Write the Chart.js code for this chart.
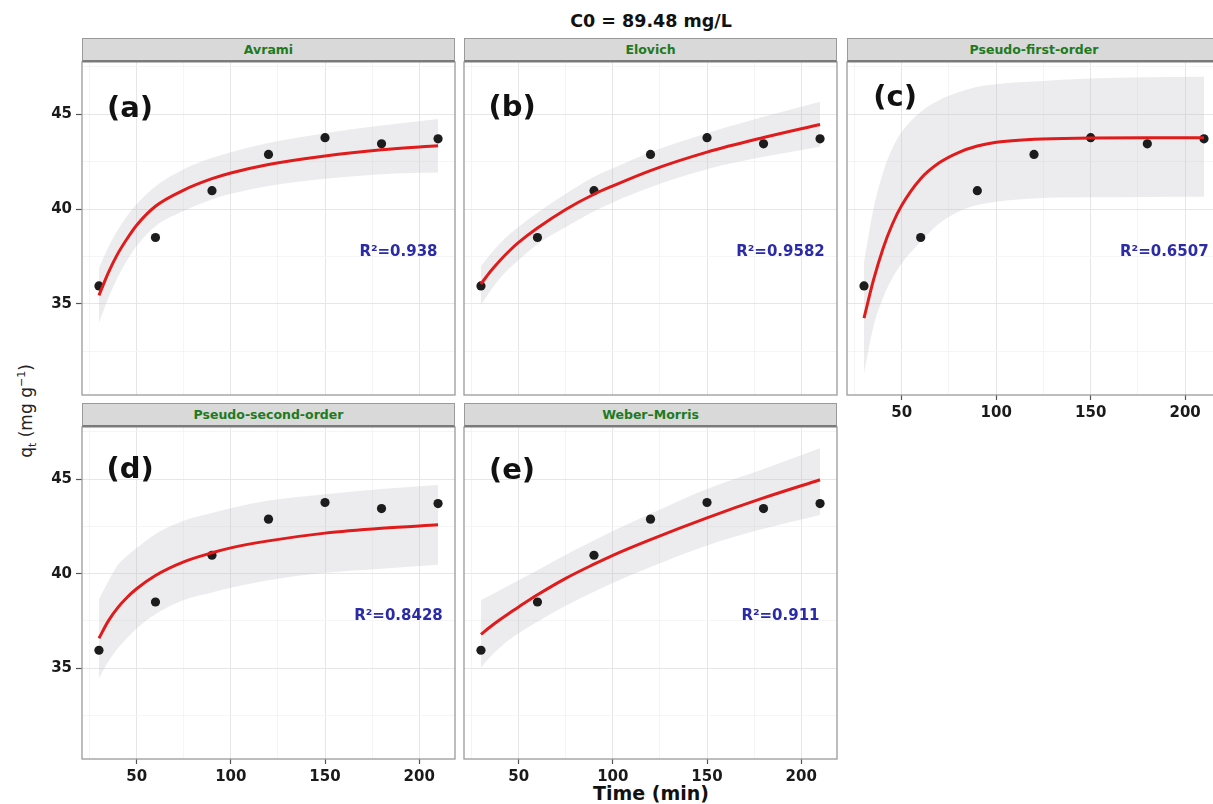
<!DOCTYPE html>
<html>
<head>
<meta charset="utf-8">
<script src="https://cdn.jsdelivr.net/npm/chart.js@4.4.0/dist/chart.umd.min.js"></script>
<style>
  html, body { margin: 0; padding: 0; overflow: hidden; background: #fff; }
  body { width: 1213px; height: 804px; position: relative; font-family: 'DejaVu Sans', sans-serif; }
  .holder { position: absolute; }
  .strip {
    position: absolute; box-sizing: border-box; height: 24px;
    background: #d9d9d9; border: 1px solid #9a9a9a; border-bottom: 2px solid #7a7a7a;
    color: #1f7a1f; font-weight: bold; font-size: 12.5px; line-height: 21px; text-align: center;
  }
  .title { position: absolute; left: 451px; width: 400px; text-align: center; font-weight: bold; color: #111; }
  .ytitle {
    position: absolute; left: 27px; top: 411px; white-space: nowrap;
    transform: translate(-50%, -50%) rotate(-90deg); font-size: 17px; color: #222;
  }
  .ytitle sub, .ytitle sup { font-size: 11px; }
</style>
</head>
<body>
<div class="title" style="top:9px;font-size:17.5px;line-height:24px">C0 = 89.48 mg/L</div>
<div class="title" style="top:781px;font-size:19px;line-height:24px">Time (min)</div>
<div class="ytitle">q<sub>t</sub> (mg g<sup>−1</sup>)</div>

<script>
// 观测数据
const obsTime = [30, 60, 90, 120, 150, 180, 210]
const obsQt = [35.95, 38.5, 40.97, 42.88, 43.76, 43.44, 43.7]

// 拟合曲线的取值时间
const fitTime = [30, 35, 40, 45, 50, 60, 75, 90, 100, 120, 150, 180, 210]
const fitTimePfo = [30, 35, 40, 45, 50, 60, 70, 80, 90, 100, 120, 150, 180, 210]

// Avrami
const avramiFit = [35.45, 36.65, 37.65, 38.45, 39.15, 40.15, 41.0, 41.6, 41.9, 42.35, 42.8, 43.12, 43.33]
const avramiUpper = [36.9, 38.0, 38.9, 39.65, 40.25, 41.2, 42.1, 42.7, 43.0, 43.48, 44.0, 44.4, 44.74]
const avramiLower = [34.0, 35.3, 36.4, 37.3, 38.05, 39.1, 39.9, 40.5, 40.8, 41.22, 41.6, 41.84, 41.92]

// Elovich
const elovichFit = [36.05, 36.71, 37.28, 37.79, 38.24, 39.0, 39.98, 40.78, 41.22, 42.03, 43.0, 43.77, 44.46]
const elovichUpper = [37.0, 37.62, 38.18, 38.66, 39.07, 39.8, 40.8, 41.7, 42.15, 43.0, 44.0, 44.86, 45.65]
const elovichLower = [34.95, 35.7, 36.34, 36.87, 37.32, 38.15, 39.05, 39.88, 40.35, 41.15, 42.1, 42.75, 43.28]

// Pseudo-first-order
const pfoFit = [34.25, 36.25, 37.9, 39.2, 40.2, 41.6, 42.45, 42.98, 43.32, 43.52, 43.68, 43.74, 43.76, 43.76]
const pfoUpper = [37.2, 40.0, 41.9, 43.2, 44.07, 45.12, 45.75, 46.15, 46.44, 46.58, 46.72, 46.88, 46.95, 46.97]
const pfoLower = [31.35, 33.8, 35.3, 36.35, 37.14, 38.28, 39.25, 39.86, 40.21, 40.39, 40.56, 40.62, 40.64, 40.65]

// Pseudo-second-order
const psoFit = [36.58, 37.5, 38.2, 38.75, 39.2, 39.9, 40.62, 41.1, 41.36, 41.73, 42.14, 42.4, 42.58]
const psoUpper = [38.65, 39.6, 40.45, 40.95, 41.35, 42.1, 42.8, 43.2, 43.45, 43.86, 44.2, 44.47, 44.68]
const psoLower = [34.47, 35.35, 36.05, 36.6, 37.1, 37.85, 38.6, 39.0, 39.25, 39.65, 40.04, 40.26, 40.47]

// Weber-Morris
const wmFit = [36.79, 37.19, 37.56, 37.91, 38.24, 38.88, 39.75, 40.5, 40.97, 41.8, 42.95, 44.0, 44.96]
const wmUpper = [38.6, 38.86, 39.12, 39.38, 39.65, 40.18, 41.0, 41.75, 42.25, 43.16, 44.47, 45.53, 46.63]
const wmLower = [35.04, 35.6, 36.08, 36.5, 36.85, 37.46, 38.3, 39.04, 39.5, 40.35, 41.49, 42.37, 43.1]

const panelNames = ['Avrami', 'Elovich', 'Pseudo-first-order', 'Pseudo-second-order', 'Weber–Morris']
const panelTags = ['(a)', '(b)', '(c)', '(d)', '(e)']
const r2Labels = ['R²=0.938', 'R²=0.9582', 'R²=0.6507', 'R²=0.8428', 'R²=0.911']

// 坐标轴
const xRange = [21, 219]
const yRange = [30.2, 47.75]
const xMajorStep = 50
const yMajorStep = 5

const tickFont = { family: 'DejaVu Sans', size: 15, weight: 'bold' }

const panels = [
  { name: panelNames[0], tag: panelTags[0], r2: r2Labels[0], t: fitTime, fit: avramiFit, up: avramiUpper, low: avramiLower,
    box: [0, 55, 462, 345], pad: { left: 0, top: 7, right: 7, bottom: 5 }, yLab: true, xLab: false, strip: [82, 38, 373], tagY: 45.25 },
  { name: panelNames[1], tag: panelTags[1], r2: r2Labels[1], t: fitTime, fit: elovichFit, up: elovichUpper, low: elovichLower,
    box: [457, 55, 390, 345], pad: { left: 7, top: 7, right: 10, bottom: 5 }, yLab: false, xLab: false, strip: [464, 38, 373], tagY: 45.3 },
  { name: panelNames[2], tag: panelTags[2], r2: r2Labels[2], t: fitTimePfo, fit: pfoFit, up: pfoUpper, low: pfoLower,
    box: [840, 55, 390, 370], pad: { left: 7, top: 7, right: 9, bottom: 0 }, yLab: false, xLab: true, strip: [847, 38, 374], tagY: 45.85 },
  { name: panelNames[3], tag: panelTags[3], r2: r2Labels[3], t: fitTime, fit: psoFit, up: psoUpper, low: psoLower,
    box: [0, 420, 462, 385], pad: { left: 0, top: 7, right: 7, bottom: 16 }, yLab: true, xLab: true, strip: [82, 403, 373], tagY: 45.45 },
  { name: panelNames[4], tag: panelTags[4], r2: r2Labels[4], t: fitTime, fit: wmFit, up: wmUpper, low: wmLower,
    box: [457, 420, 390, 385], pad: { left: 7, top: 7, right: 10, bottom: 16 }, yLab: false, xLab: true, strip: [464, 403, 373], tagY: 45.4 }
]

// 面板边框、标签和R²文字
const panelDecor = {
  id: 'panelDecor',
  afterDatasetsDraw(chart, args, opts) {
    const { ctx, scales: { x, y } } = chart
    ctx.save()
    ctx.textAlign = 'center'
    ctx.textBaseline = 'middle'
    ctx.fillStyle = '#111'
    ctx.font = 'bold 29px "DejaVu Sans"'
    ctx.fillText(opts.tag, x.getPixelForValue(46.5), y.getPixelForValue(opts.tagY))
    ctx.fillStyle = '#2b2ba8'
    ctx.font = 'bold 15px "DejaVu Sans"'
    ctx.fillText(opts.r2, x.getPixelForValue(189), y.getPixelForValue(37.75))
    ctx.restore()
  },
  afterDraw(chart) {
    const { ctx, chartArea: a } = chart
    ctx.save()
    ctx.strokeStyle = '#9a9a9a'
    ctx.lineWidth = 1.3
    ctx.strokeRect(a.left, a.top, a.right - a.left, a.bottom - a.top)
    ctx.restore()
  }
}

const toPts = (xs, ys) => xs.map((v, i) => ({ x: v, y: ys[i] }))
const isMajor = (ctx, step) => ctx.tick && Math.abs(ctx.tick.value / step - Math.round(ctx.tick.value / step)) < 1e-6
// 固定坐标轴尺寸，去掉刻度文字带来的额外边距
const fixAxis = (s, size) => {
  if (s.isHorizontal()) s.height = size
  else s.width = size
  s.paddingTop = 0
  s.paddingBottom = 0
  s.paddingLeft = 0
  s.paddingRight = 0
}

panels.forEach(p => {
  const holder = document.createElement('div')
  holder.className = 'holder'
  holder.style.left = p.box[0] + 'px'
  holder.style.top = p.box[1] + 'px'
  const canvas = document.createElement('canvas')
  canvas.width = p.box[2]
  canvas.height = p.box[3]
  holder.appendChild(canvas)
  document.body.appendChild(holder)

  const strip = document.createElement('div')
  strip.className = 'strip'
  strip.style.left = p.strip[0] + 'px'
  strip.style.top = p.strip[1] + 'px'
  strip.style.width = p.strip[2] + 'px'
  strip.textContent = p.name
  document.body.appendChild(strip)

  new Chart(canvas.getContext('2d'), {
    type: 'scatter',
    data: {
      datasets: [
        { data: toPts(p.t, p.up), showLine: true, borderWidth: 0, pointRadius: 0, fill: '+1',
          backgroundColor: 'rgba(185,185,195,0.28)', cubicInterpolationMode: 'monotone', order: 2 },
        { data: toPts(p.t, p.low), showLine: true, borderWidth: 0, pointRadius: 0, fill: false,
          cubicInterpolationMode: 'monotone', order: 3 },
        { data: toPts(p.t, p.fit), showLine: true, borderColor: '#e01b1b', borderWidth: 3, pointRadius: 0,
          fill: false, cubicInterpolationMode: 'monotone', order: 0 },
        { data: toPts(obsTime, obsQt), pointRadius: 4.6, pointBackgroundColor: '#1c1c1c', pointBorderWidth: 0,
          showLine: false, order: 1 }
      ]
    },
    options: {
      responsive: false,
      animation: false,
      events: [],
      layout: { padding: p.pad },
      plugins: {
        legend: { display: false },
        tooltip: { enabled: false },
        panelDecor: { tag: p.tag, r2: p.r2, tagY: p.tagY }
      },
      scales: {
        x: {
          type: 'linear', min: xRange[0], max: xRange[1],
          border: { display: false },
          ticks: {
            display: p.xLab, stepSize: 25, includeBounds: false, autoSkip: false, maxRotation: 0,
            padding: 4, color: '#1a1a1a', font: tickFont,
            callback: v => Math.abs(v % xMajorStep) < 1e-6 ? v : ''
          },
          grid: {
            color: c => isMajor(c, xMajorStep) ? '#e6e6e6' : '#f3f3f3',
            lineWidth: c => isMajor(c, xMajorStep) ? 1 : 0.8,
            drawTicks: p.xLab, tickLength: 5, tickWidth: 1.2,
            tickColor: c => isMajor(c, xMajorStep) ? '#555' : 'rgba(0,0,0,0)'
          },
          afterFit: s => fixAxis(s, p.xLab ? 30 : 0)
        },
        y: {
          type: 'linear', min: yRange[0], max: yRange[1],
          border: { display: false },
          ticks: {
            display: p.yLab, stepSize: 2.5, includeBounds: false, autoSkip: false,
            padding: 4, color: '#1a1a1a', font: tickFont,
            callback: v => Math.abs(v % yMajorStep) < 1e-6 ? v : ''
          },
          grid: {
            color: c => isMajor(c, yMajorStep) ? '#e6e6e6' : '#f3f3f3',
            lineWidth: c => isMajor(c, yMajorStep) ? 1 : 0.8,
            drawTicks: p.yLab, tickLength: 6, tickWidth: 1.2,
            tickColor: c => isMajor(c, yMajorStep) ? '#555' : 'rgba(0,0,0,0)'
          },
          afterFit: s => fixAxis(s, p.yLab ? 82 : 0)
        }
      }
    },
    plugins: [panelDecor]
  })
})
</script>
</body>
</html>
